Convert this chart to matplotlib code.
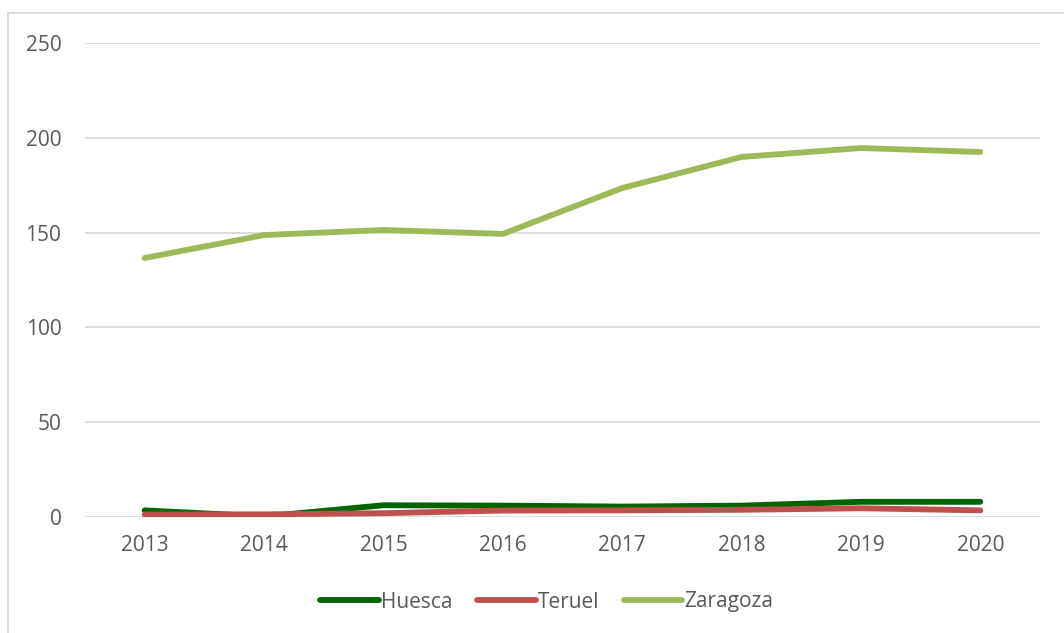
import matplotlib.pyplot as plt
from matplotlib.patches import Rectangle

years = ['2013', '2014', '2015', '2016', '2017', '2018', '2019', '2020']
huesca = [3.5, 0.3, 6.2, 6.0, 5.5, 6.0, 8.0, 8.0]
teruel = [1.3, 1.4, 2.0, 3.4, 3.5, 3.8, 4.6, 3.5]
zaragoza = [136.6, 148.7, 151.4, 149.3, 173.5, 189.9, 194.6, 192.5]

plt.rcParams['font.family'] = ['Open Sans', 'DejaVu Sans']
txt = '#595959'
grid = '#d9d9d9'

fig = plt.figure(figsize=(10.64, 6.33), dpi=100)
# chart border (cut by the image on right and bottom)
fig.patches.append(Rectangle((8 / 1064, -0.05), 1.1, 1 - 13 / 633 + 0.05,
                             transform=fig.transFigure, fill=False,
                             edgecolor=grid, linewidth=1.3))

ax = fig.add_axes([85 / 1064, 1 - 517 / 633, (1040 - 85) / 1064, 474 / 633])
x = range(len(years))
ax.plot(x, huesca, color='#006400', lw=4.2, solid_capstyle='round', label='Huesca', zorder=3)
ax.plot(x, teruel, color='#C0504D', lw=4.2, solid_capstyle='round', label='Teruel', zorder=3)
ax.plot(x, zaragoza, color='#9BBB59', lw=4.2, solid_capstyle='round', label='Zaragoza', zorder=3)

ax.set_xlim(-0.5, 7.5)
ax.set_ylim(0, 250)
ax.set_yticks(range(0, 251, 50))
ax.set_xticks(list(x))
ax.set_xticklabels(years)
ax.yaxis.grid(True, color=grid, lw=1.3)
ax.set_axisbelow(True)
for s in ax.spines.values():
    s.set_visible(False)
ax.tick_params(length=0, labelsize=15, labelcolor=txt)
ax.tick_params(axis='y', pad=17)
ax.tick_params(axis='x', pad=13)

fig.legend(loc='center', bbox_to_anchor=(0.514, 1 - 602 / 633), ncol=3, frameon=False,
           fontsize=15, labelcolor=txt, handlelength=2.8, handletextpad=0.1,
           columnspacing=1.2)

fig.savefig('out.png', dpi=100)
